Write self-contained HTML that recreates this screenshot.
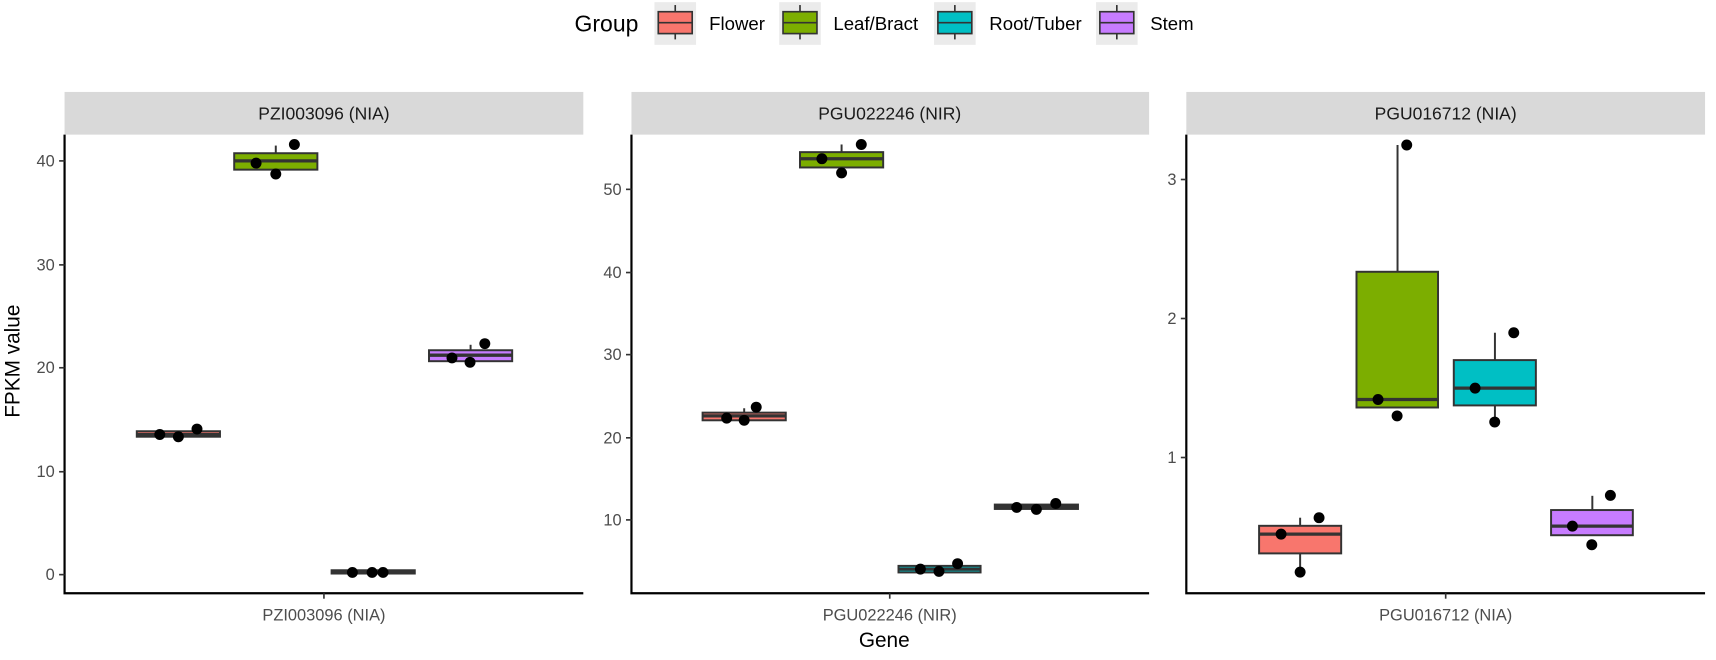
<!DOCTYPE html>
<html><head><meta charset="utf-8"><style>body{margin:0;background:#fff}svg{display:block}text{font-family:"Liberation Sans",sans-serif}</style></head><body>
<svg width="1716" height="660" viewBox="0 0 1568 603" preserveAspectRatio="none" xmlns="http://www.w3.org/2000/svg">
<!-- legend -->
<text x="525" y="29" font-size="21" fill="#000">Group</text>
<g stroke="#333" stroke-width="1.5">
<rect x="598" y="2" width="38" height="39" fill="#ebebeb" stroke="none"/><rect x="601.5" y="10.7" width="31" height="20" fill="#F8766D"/><line x1="617" y1="4.6" x2="617" y2="10.7"/><line x1="617" y1="30.7" x2="617" y2="36"/><line x1="601.5" y1="20.7" x2="632.5" y2="20.7"/>
<rect x="712" y="2" width="38" height="39" fill="#ebebeb" stroke="none"/><rect x="715.5" y="10.7" width="31" height="20" fill="#7CAE00"/><line x1="731" y1="4.6" x2="731" y2="10.7"/><line x1="731" y1="30.7" x2="731" y2="36"/><line x1="715.5" y1="20.7" x2="746.5" y2="20.7"/>
<rect x="853.5" y="2" width="38" height="39" fill="#ebebeb" stroke="none"/><rect x="857" y="10.7" width="31" height="20" fill="#00BFC4"/><line x1="872.5" y1="4.6" x2="872.5" y2="10.7"/><line x1="872.5" y1="30.7" x2="872.5" y2="36"/><line x1="857" y1="20.7" x2="888" y2="20.7"/>
<rect x="1001.5" y="2" width="38" height="39" fill="#ebebeb" stroke="none"/><rect x="1005" y="10.7" width="31" height="20" fill="#C77CFF"/><line x1="1020.5" y1="4.6" x2="1020.5" y2="10.7"/><line x1="1020.5" y1="30.7" x2="1020.5" y2="36"/><line x1="1005" y1="20.7" x2="1036" y2="20.7"/>
</g>
<g font-size="17" fill="#000"><text x="648" y="27.5">Flower</text><text x="761.5" y="27.5">Leaf/Bract</text><text x="904" y="27.5">Root/Tuber</text><text x="1051" y="27.5">Stem</text></g>
<!-- strips -->
<rect x="59" y="84" width="474" height="39" fill="#d9d9d9"/><rect x="577" y="84" width="473" height="39" fill="#d9d9d9"/><rect x="1084" y="84" width="474" height="39" fill="#d9d9d9"/>
<g font-size="16" fill="#1a1a1a" text-anchor="middle"><text x="296" y="109">PZI003096 (NIA)</text><text x="813" y="109">PGU022246 (NIR)</text><text x="1321" y="109">PGU016712 (NIA)</text></g>
<!-- axes -->
<g stroke="#000" stroke-width="2" fill="none">
<polyline points="59,123 59,542 533,542"/><polyline points="577,123 577,542 1050,542"/><polyline points="1084,123 1084,542 1558,542"/>
</g>
<g stroke="#333" stroke-width="1.5">
<line x1="54" y1="147" x2="59" y2="147"/><line x1="54" y1="242" x2="59" y2="242"/><line x1="54" y1="336" x2="59" y2="336"/><line x1="54" y1="431" x2="59" y2="431"/><line x1="54" y1="525" x2="59" y2="525"/>
<line x1="572" y1="173" x2="577" y2="173"/><line x1="572" y1="249" x2="577" y2="249"/><line x1="572" y1="324" x2="577" y2="324"/><line x1="572" y1="400" x2="577" y2="400"/><line x1="572" y1="475" x2="577" y2="475"/>
<line x1="1079" y1="164" x2="1084" y2="164"/><line x1="1079" y1="291" x2="1084" y2="291"/><line x1="1079" y1="418" x2="1084" y2="418"/>
<line x1="296" y1="542" x2="296" y2="547"/><line x1="813" y1="542" x2="813" y2="547"/><line x1="1321" y1="542" x2="1321" y2="547"/>
</g>
<g font-size="15" fill="#4d4d4d" text-anchor="end">
<text x="50" y="152">40</text><text x="50" y="247">30</text><text x="50" y="341">20</text><text x="50" y="436">10</text><text x="50" y="530">0</text>
<text x="568" y="178">50</text><text x="568" y="254">40</text><text x="568" y="329">30</text><text x="568" y="405">20</text><text x="568" y="480">10</text>
<text x="1075" y="169">3</text><text x="1075" y="296">2</text><text x="1075" y="423">1</text>
</g>
<g font-size="15" fill="#4d4d4d" text-anchor="middle"><text x="296" y="567">PZI003096 (NIA)</text><text x="813" y="567">PGU022246 (NIR)</text><text x="1321" y="567">PGU016712 (NIA)</text></g>
<text x="808" y="591" font-size="19" text-anchor="middle">Gene</text>
<text transform="translate(18,330) rotate(-90)" font-size="19" text-anchor="middle">FPKM value</text>
<!-- boxes -->
<g stroke="#333" stroke-width="1.8">
<rect x="125" y="394" width="76" height="5" fill="#F8766D"/><line x1="125" y1="397" x2="201" y2="397" stroke-width="3"/>
<line x1="252" y1="133" x2="252" y2="140"/><rect x="214" y="140" width="76" height="15" fill="#7CAE00"/><line x1="214" y1="147" x2="290" y2="147" stroke-width="3"/>
<rect x="303" y="521" width="76" height="3" fill="#00BFC4"/><line x1="303" y1="523" x2="379" y2="523" stroke-width="3"/>
<line x1="430" y1="315" x2="430" y2="320"/><rect x="392" y="320" width="76" height="10" fill="#C77CFF"/><line x1="392" y1="324.5" x2="468" y2="324.5" stroke-width="3"/>
<line x1="680" y1="373" x2="680" y2="377"/><rect x="642" y="377" width="76" height="7" fill="#F8766D"/><line x1="642" y1="380" x2="718" y2="380" stroke-width="3"/>
<line x1="769" y1="132" x2="769" y2="139"/><rect x="731" y="139" width="76" height="14" fill="#7CAE00"/><line x1="731" y1="145" x2="807" y2="145" stroke-width="3"/>
<rect x="821" y="517" width="75" height="6" fill="#00BFC4"/><line x1="821" y1="520" x2="896" y2="520" stroke-width="3"/>
<rect x="909" y="461" width="76" height="4" fill="#C77CFF"/><line x1="909" y1="463" x2="985" y2="463" stroke-width="3"/>
<line x1="1188" y1="473" x2="1188" y2="480"/><line x1="1188" y1="505" x2="1188" y2="522"/><rect x="1150.5" y="480.4" width="75" height="25.2" fill="#F8766D"/><line x1="1150.5" y1="488" x2="1225.5" y2="488" stroke-width="3"/>
<line x1="1277" y1="132.5" x2="1277" y2="248"/><rect x="1239.5" y="248.3" width="74.5" height="124" fill="#7CAE00"/><line x1="1239.5" y1="365" x2="1314" y2="365" stroke-width="3"/>
<line x1="1366" y1="304" x2="1366" y2="329"/><line x1="1366" y1="370" x2="1366" y2="385"/><rect x="1328.4" y="329" width="75" height="41.4" fill="#00BFC4"/><line x1="1328.4" y1="354.6" x2="1403.4" y2="354.6" stroke-width="3"/>
<line x1="1455" y1="453" x2="1455" y2="466"/><rect x="1417.3" y="466" width="74.7" height="23" fill="#C77CFF"/><line x1="1417.3" y1="480.7" x2="1492" y2="480.7" stroke-width="3"/>
</g>
<g fill="#000">
<circle cx="146" cy="397" r="5"/><circle cx="163" cy="399" r="5"/><circle cx="180" cy="392" r="5"/>
<circle cx="234" cy="149" r="5"/><circle cx="252" cy="159" r="5"/><circle cx="269" cy="132" r="5"/>
<circle cx="322" cy="523" r="5"/><circle cx="340" cy="523" r="5"/><circle cx="350" cy="523" r="5"/>
<circle cx="413" cy="327" r="5"/><circle cx="429.5" cy="331" r="5"/><circle cx="443" cy="314" r="5"/>
<circle cx="664" cy="382" r="5"/><circle cx="680" cy="384" r="5"/><circle cx="691" cy="372" r="5"/>
<circle cx="751" cy="145" r="5"/><circle cx="769" cy="158" r="5"/><circle cx="787" cy="132" r="5"/>
<circle cx="841" cy="520" r="5"/><circle cx="858" cy="522" r="5"/><circle cx="875" cy="515" r="5"/>
<circle cx="929" cy="463.6" r="5"/><circle cx="947" cy="465.4" r="5"/><circle cx="964.7" cy="460" r="5"/>
<circle cx="1170.6" cy="488" r="5"/><circle cx="1205.3" cy="473" r="5"/><circle cx="1188" cy="522.7" r="5"/>
<circle cx="1259.2" cy="365" r="5"/><circle cx="1276.6" cy="380" r="5"/><circle cx="1285.4" cy="132.5" r="5"/>
<circle cx="1347.9" cy="354.6" r="5"/><circle cx="1383.2" cy="304" r="5"/><circle cx="1365.8" cy="385.6" r="5"/>
<circle cx="1436.8" cy="480.7" r="5"/><circle cx="1471.5" cy="452.6" r="5"/><circle cx="1454.5" cy="497.7" r="5"/>
</g>
</svg>
</body></html>
